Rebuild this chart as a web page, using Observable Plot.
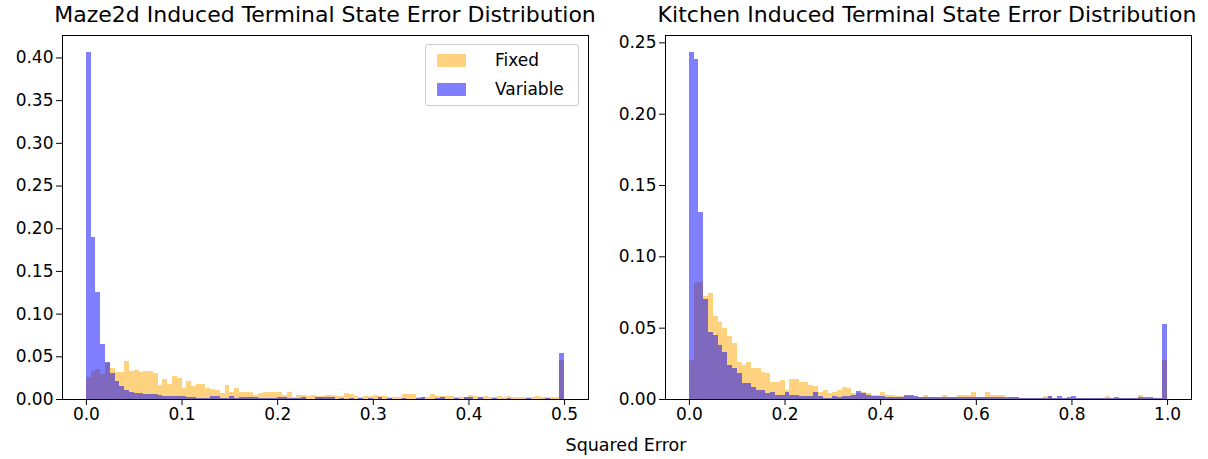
<!DOCTYPE html>
<html><head><meta charset="utf-8">
<script src="https://cdn.jsdelivr.net/npm/d3@7"></script>
<script src="https://cdn.jsdelivr.net/npm/@observablehq/plot@0.6"></script>
<style>
html,body{margin:0;padding:0;background:#fff;}
#root{position:relative;width:1208px;height:459px;font-family:"DejaVu Sans",sans-serif;color:#000;overflow:hidden;background:#fff}
.panel{position:absolute;top:0}
.title{position:absolute;font-size:22px;line-height:26px;white-space:nowrap;transform:translateX(-50%)}
.xlabel{position:absolute;font-size:17.5px;line-height:20px;white-space:nowrap;transform:translateX(-50%)}
.legend{position:absolute;box-sizing:border-box;border:1px solid #cccccc;border-radius:3px;background:rgba(255,255,255,0.8);font-size:17px}
.legend .item{position:absolute;left:0;display:block;height:20px;line-height:20px;white-space:nowrap}
.legend .sw{position:absolute;left:11px;width:29px;height:13px}
.legend .tx{position:absolute;left:69px;top:0}
</style>
</head><body>
<div id="root"></div>
<script>
// ---- data (histogram bin heights, density-normalised, 100 bins each) ----
const seriesNames = ["Fixed", "Variable"];
const seriesColors = ["#FFA500", "#0000FF"];

const mazeTitle = "Maze2d Induced Terminal State Error Distribution";
const kitchenTitle = "Kitchen Induced Terminal State Error Distribution";
const xAxisLabel = "Squared Error";

const mazeBinWidth = 0.005;
const kitchenBinWidth = 0.01;

const mazeFixed = [
0.026,0.033,0.035,0.029,0.042,0.036,0.032,0.032,0.044,0.033,
0.034,0.032,0.033,0.033,0.030,0.016,0.023,0.018,0.027,0.025,
0.0125,0.021,0.0156,0.017,0.018,0.013,0.0117,0.011,0.0066,0.016,
0.0086,0.013,0.0086,0.0078,0.0078,0.0047,0.0066,0.0078,0.0086,0.0086,
0.0078,0.0047,0.0078,0.002,0.0047,0.0047,0.0035,0.0047,0.0035,0.0035,
0.0047,0.0047,0.0035,0.0035,0.0066,0.0055,0.0035,0.002,0.0035,0.0035,
0.0047,0.0035,0.0035,0.002,0.002,0.002,0.0055,0.0055,0.0055,0.002,
0.002,0.002,0.0055,0.0035,0.0035,0.0035,0.0035,0.002,0.002,0.002,
0.0047,0.003,0.002,0.0035,0.002,0.002,0.0035,0.002,0.0035,0.002,
0.002,0.002,0.002,0.002,0.0035,0.002,0.002,0.002,0.0025,0.0456
];
const mazeVariable = [
0.406,0.190,0.1255,0.0643,0.043,0.030,0.021,0.015,0.0105,0.0086,
0.0066,0.0066,0.0055,0.0055,0.0055,0.005,0.0035,0.0035,0.004,0.003,
0.003,0.002,0.002,0.0015,0.0015,0.0015,0.0035,0.0035,0.0015,0.0015,
0.0035,0.001,0.002,0.002,0.002,0.002,0.001,0.001,0.001,0.001,
0.002,0.002,0.001,0.001,0.001,0.002,0.0005,0.0005,0.002,0.002,
0.002,0.002,0.0005,0.001,0.0005,0.001,0.0005,0.001,0.0005,0.001,
0.0005,0.002,0.0005,0.001,0.0005,0.0005,0.001,0.0005,0.0005,0.001,
0.002,0.0005,0.0005,0.001,0.002,0.0005,0.0005,0.001,0.0005,0.002,
0.002,0.0005,0.002,0.0005,0.0005,0.001,0.0005,0.0005,0.001,0.0005,
0.0005,0.0005,0.001,0.0005,0.0005,0.0005,0.001,0.0005,0.0005,0.0534
];
const kitchenFixed = [
0.027,0.081,0.082,0.072,0.074,0.058,0.054,0.050,0.044,0.039,
0.026,0.024,0.026,0.022,0.022,0.019,0.018,0.012,0.012,0.013,
0.006,0.014,0.014,0.012,0.012,0.010,0.009,0.005,0.006,0.004,
0.005,0.006,0.0086,0.0075,0.004,0.004,0.005,0.004,0.003,0.003,
0.0047,0.003,0.003,0.002,0.002,0.002,0.002,0.0016,0.0016,0.003,
0.0016,0.0016,0.0016,0.003,0.0016,0.0016,0.003,0.003,0.003,0.005,
0.0016,0.0016,0.005,0.0025,0.0025,0.0025,0.001,0.0016,0.0016,0.001,
0.001,0.001,0.001,0.001,0.002,0.002,0.001,0.001,0.001,0.001,
0.001,0.001,0.001,0.001,0.001,0.001,0.001,0.002,0.001,0.001,
0.001,0.001,0.001,0.001,0.0028,0.001,0.001,0.001,0.0005,0.0273
];
const kitchenVariable = [
0.243,0.2386,0.131,0.070,0.047,0.045,0.038,0.033,0.024,0.022,
0.018,0.011,0.011,0.0086,0.0065,0.006,0.004,0.005,0.003,0.0025,
0.005,0.003,0.003,0.002,0.002,0.002,0.005,0.002,0.001,0.001,
0.002,0.0015,0.002,0.002,0.003,0.0056,0.004,0.003,0.002,0.002,
0.002,0.0016,0.0016,0.0016,0.0016,0.003,0.003,0.002,0.0012,0.0012,
0.0012,0.0012,0.0012,0.0012,0.0012,0.0012,0.0012,0.0012,0.0012,0.0012,
0.0012,0.0012,0.0012,0.0012,0.0012,0.0012,0.0012,0.0012,0.0016,0.001,
0.001,0.001,0.001,0.001,0.001,0.002,0.001,0.002,0.001,0.0015,
0.002,0.001,0.001,0.001,0.001,0.001,0.001,0.001,0.001,0.0016,
0.001,0.001,0.001,0.001,0.0016,0.0016,0.0016,0.001,0.0005,0.0525
];

const mazeXTicks = [0, 0.1, 0.2, 0.3, 0.4, 0.5];
const mazeYTicks = [0, 0.05, 0.10, 0.15, 0.20, 0.25, 0.30, 0.35, 0.40];
const kitchenXTicks = [0, 0.2, 0.4, 0.6, 0.8, 1.0];
const kitchenYTicks = [0, 0.05, 0.10, 0.15, 0.20, 0.25];

// ---- helpers ----
function toRows(values, w) {
  return values.map((v, i) => ({x1: i * w, x2: (i + 1) * w, y: v}));
}

function panel({fixed, variable, w, xmax, xTicks, yTicks, width, marginRight}) {
  const ymax = d3.max([...fixed, ...variable]) * 1.05;
  const pad = xmax * 0.05;
  return Plot.plot({
    width, height: 459,
    marginLeft: 62, marginRight, marginTop: 35, marginBottom: 60,
    style: {fontFamily: "DejaVu Sans", fontSize: "17px", color: "#000", background: "transparent", overflow: "visible"},
    x: {domain: [-pad, xmax + pad], label: null},
    y: {domain: [0, ymax], label: null},
    marks: [
      Plot.rectY(toRows(fixed, w), {x1: "x1", x2: "x2", y: "y", fill: seriesColors[0], fillOpacity: 0.5, inset: 0, shapeRendering: "crispEdges"}),
      Plot.rectY(toRows(variable, w), {x1: "x1", x2: "x2", y: "y", fill: seriesColors[1], fillOpacity: 0.5, inset: 0, shapeRendering: "crispEdges"}),
      Plot.axisX({ticks: xTicks, tickFormat: d3.format(".1f"), tickSize: 6, tickPadding: 2, label: null}),
      Plot.axisY({ticks: yTicks, tickFormat: d3.format(".2f"), tickSize: 6, tickPadding: 3, label: null}),
      Plot.frame({stroke: "#000", strokeWidth: 1})
    ]
  });
}

const root = document.getElementById("root");

const left = panel({fixed: mazeFixed, variable: mazeVariable, w: mazeBinWidth, xmax: 0.5,
  xTicks: mazeXTicks, yTicks: mazeYTicks, width: 600, marginRight: 12});
left.classList.add("panel"); left.style.left = "0px";
root.appendChild(left);

const right = panel({fixed: kitchenFixed, variable: kitchenVariable, w: kitchenBinWidth, xmax: 1.0,
  xTicks: kitchenXTicks, yTicks: kitchenYTicks, width: 605, marginRight: 17});
right.classList.add("panel"); right.style.left = "603px";
root.appendChild(right);

function addText(cls, text, x, y) {
  const d = document.createElement("div");
  d.className = cls; d.textContent = text;
  d.style.left = x + "px"; d.style.top = y + "px";
  root.appendChild(d);
}
addText("title", mazeTitle, 325, 2);
addText("title", kitchenTitle, 927, 2);
addText("xlabel", xAxisLabel, 626, 435);

// legend
const lg = document.createElement("div");
lg.className = "legend";
Object.assign(lg.style, {left: "425px", top: "44px", width: "154px", height: "62px"});
seriesNames.forEach((name, i) => {
  const it = document.createElement("div");
  it.className = "item";
  it.style.top = (5 + i * 29) + "px";
  it.style.width = "150px";
  const sw = document.createElement("span");
  sw.className = "sw";
  sw.style.top = "4px";
  sw.style.background = seriesColors[i];
  sw.style.opacity = 0.5;
  const tx = document.createElement("span");
  tx.className = "tx";
  tx.textContent = name;
  it.appendChild(sw); it.appendChild(tx);
  lg.appendChild(it);
});
root.appendChild(lg);
</script>
</body></html>
